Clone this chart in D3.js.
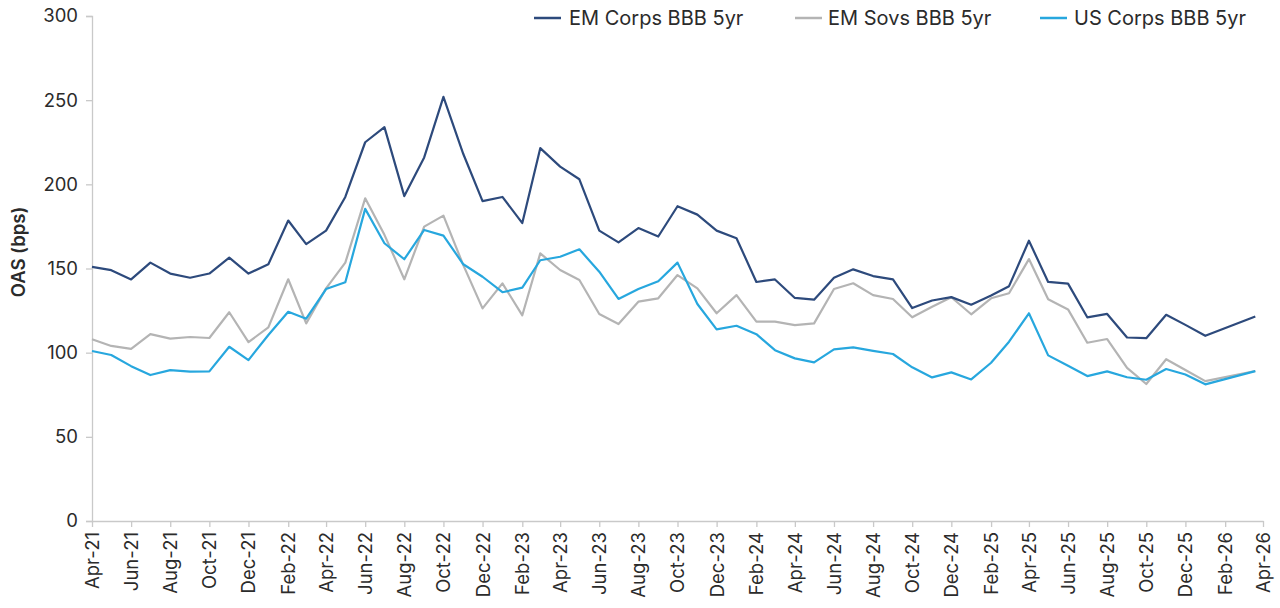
<!DOCTYPE html>
<html>
<head>
<meta charset="utf-8">
<script src="https://cdn.jsdelivr.net/npm/d3@7"></script>
<style>
  html, body { margin: 0; padding: 0; background: #fff; }
  svg { display: block; font-family: Inter, "Noto Sans", sans-serif; }
</style>
</head>
<body>
<svg id="chart" width="1280" height="608"></svg>
<script>
// ---- data ----
const dates = [
  "2021-04-01","2021-05-01","2021-06-01","2021-07-01","2021-08-01","2021-09-01","2021-10-01","2021-11-01","2021-12-01",
  "2022-01-01","2022-02-01","2022-03-01","2022-04-01","2022-05-01","2022-06-01","2022-07-01","2022-08-01","2022-09-01","2022-10-01","2022-11-01","2022-12-01",
  "2023-01-01","2023-02-01","2023-03-01","2023-04-01","2023-05-01","2023-06-01","2023-07-01","2023-08-01","2023-09-01","2023-10-01","2023-11-01","2023-12-01",
  "2024-01-01","2024-02-01","2024-03-01","2024-04-01","2024-05-01","2024-06-01","2024-07-01","2024-08-01","2024-09-01","2024-10-01","2024-11-01","2024-12-01",
  "2025-01-01","2025-02-01","2025-03-01","2025-04-01","2025-05-01","2025-06-01","2025-07-01","2025-08-01","2025-09-01","2025-10-01","2025-11-01","2025-12-01",
  "2026-01-01","2026-03-20"
];
const emCorps = [
  151, 149, 143.5, 153.5, 147, 144.5, 147, 156.5, 147,
  152.5, 178.5, 164.5, 172.5, 192.5, 225, 234, 193, 216, 252, 218, 190,
  192.5, 177, 221.5, 210.5, 203, 172.5, 165.5, 174, 169, 187, 182, 172.5,
  168, 142, 143.5, 132.5, 131.5, 144.5, 149.5, 145.5, 143.5, 126.5, 131, 133,
  128.5, 134, 139.5, 166.5, 142, 141, 121, 123, 109, 108.6, 122.5, 116.5,
  110, 121.5
];
const emSovs = [
  108, 104, 102.3, 111, 108.3, 109.3, 108.7, 124, 106.3,
  115, 143.6, 117.4, 138.2, 153.5, 191.7, 170, 143.6, 174.9, 181.4, 152, 126.3,
  141.2, 122.2, 159, 149.1, 143.2, 123, 117, 130.3, 132.3, 146.1, 138.2, 123.4,
  134.2, 118.4, 118.4, 116.4, 117.4, 137.8, 141.2, 134.2, 131.9, 121, 127.3, 132.9,
  122.8, 132.3, 135.3, 155.6, 131.7, 125.7, 105.9, 108.1, 91, 81.4, 96.1, 89.7,
  83.1, 89.1
];
const usCorps = [
  101, 98.6, 92, 86.7, 89.6, 88.7, 88.9, 103.5, 95.6,
  110.5, 124.3, 120.2, 137.8, 141.8, 185.4, 165, 155.5, 172.9, 169.5, 152.5, 145.1,
  135.9, 138.6, 154.9, 157, 161.4, 148.1, 131.9, 137.8, 142.4, 153.5, 128.9, 113.8,
  116, 111, 101.5, 96.6, 94.2, 102, 103.1, 101.1, 99.2, 91.3, 85.3, 88.3,
  84.1, 94, 106.5, 123.4, 98.4, 92.2, 86.1, 88.9, 85.4, 83.9, 90.3, 87,
  81.2, 89
];
const seriesNames = ["EM Corps BBB 5yr", "EM Sovs BBB 5yr", "US Corps BBB 5yr"];
const seriesColors = ["#2d4a7c", "#b4b4b4", "#27a7de"];
const xTickLabels = [
  "Apr-21","Jun-21","Aug-21","Oct-21","Dec-21","Feb-22","Apr-22","Jun-22","Aug-22","Oct-22","Dec-22",
  "Feb-23","Apr-23","Jun-23","Aug-23","Oct-23","Dec-23","Feb-24","Apr-24","Jun-24","Aug-24","Oct-24","Dec-24",
  "Feb-25","Apr-25","Jun-25","Aug-25","Oct-25","Dec-25","Feb-26","Apr-26"
];
const yTicks = [0, 50, 100, 150, 200, 250, 300];
const yLabel = "OAS (bps)";

// ---- layout ----
const W = 1280, H = 608;
const margin = { top: 16, right: 17, bottom: 87, left: 92 };
const iw = W - margin.left - margin.right;
const ih = H - margin.top - margin.bottom;

const parseDate = d3.timeParse("%Y-%m-%d");
const parseTick = d3.timeParse("%b-%y");
const fmtTick = d3.timeFormat("%b-%y");
const dts = dates.map(parseDate);
const tickDates = xTickLabels.map(parseTick);

const x = d3.scaleTime()
  .domain([tickDates[0], tickDates[tickDates.length - 1]])
  .range([0, iw]);
const y = d3.scaleLinear().domain([0, 300]).range([ih, 0]);

const svg = d3.select("#chart");
const g = svg.append("g").attr("transform", `translate(${margin.left},${margin.top})`);

const axisColor = "#c9c9c9";
const textColor = "#2b2b2b";

// y axis
const yAxis = g.append("g")
  .call(d3.axisLeft(y).tickValues(yTicks).tickSize(6).tickPadding(8).tickFormat(d3.format("d")));
yAxis.select(".domain").attr("stroke", axisColor).attr("stroke-width", 1.3);
yAxis.selectAll(".tick line").attr("stroke", axisColor).attr("stroke-width", 1.3);
yAxis.selectAll(".tick text")
  .attr("fill", textColor).style("font-size", "18.5px").style("font-family", "Inter, sans-serif");

// x axis
const xAxis = g.append("g")
  .attr("transform", `translate(0,${ih})`)
  .call(d3.axisBottom(x).tickValues(tickDates).tickSize(6).tickSizeOuter(0).tickFormat(fmtTick));
xAxis.select(".domain").attr("stroke", axisColor).attr("stroke-width", 1.3);
xAxis.selectAll(".tick line").attr("stroke", axisColor).attr("stroke-width", 1.3);
xAxis.selectAll(".tick text")
  .attr("fill", textColor)
  .style("font-size", "18.5px").style("font-family", "Inter, sans-serif")
  .attr("transform", "rotate(-90)")
  .attr("text-anchor", "end")
  .attr("dy", "0.35em")
  .attr("x", -11)
  .attr("y", 0);

// y label
svg.append("text")
  .attr("transform", `translate(19,252) rotate(-90)`)
  .attr("text-anchor", "middle")
  .attr("dy", "0.35em")
  .attr("fill", textColor)
  .style("font-size", "18.5px")
  .style("font-weight", "600")
  .text(yLabel);

// lines
const allSeries = [emCorps, emSovs, usCorps];
const line = d3.line().x((d, i) => x(dts[i])).y(d => y(d));
// draw order: gray, blue, dark on top
[1, 2, 0].forEach(k => {
  g.append("path")
    .datum(allSeries[k])
    .attr("fill", "none")
    .attr("stroke", seriesColors[k])
    .attr("stroke-width", 2.2)
    .attr("stroke-linejoin", "round")
    .attr("d", line);
});

// legend
const legendItems = [
  { lx: 534, tx: 569 },
  { lx: 795, tx: 828 },
  { lx: 1040, tx: 1074 }
];
const legend = svg.append("g");
seriesNames.forEach((name, k) => {
  legend.append("line")
    .attr("x1", legendItems[k].lx).attr("x2", legendItems[k].lx + 27)
    .attr("y1", 18).attr("y2", 18)
    .attr("stroke", seriesColors[k]).attr("stroke-width", 2.5);
  legend.append("text")
    .attr("x", legendItems[k].tx).attr("y", 18)
    .attr("dy", "0.35em")
    .attr("fill", textColor)
    .style("font-size", "20px")
    .text(name);
});
</script>
</body>
</html>
